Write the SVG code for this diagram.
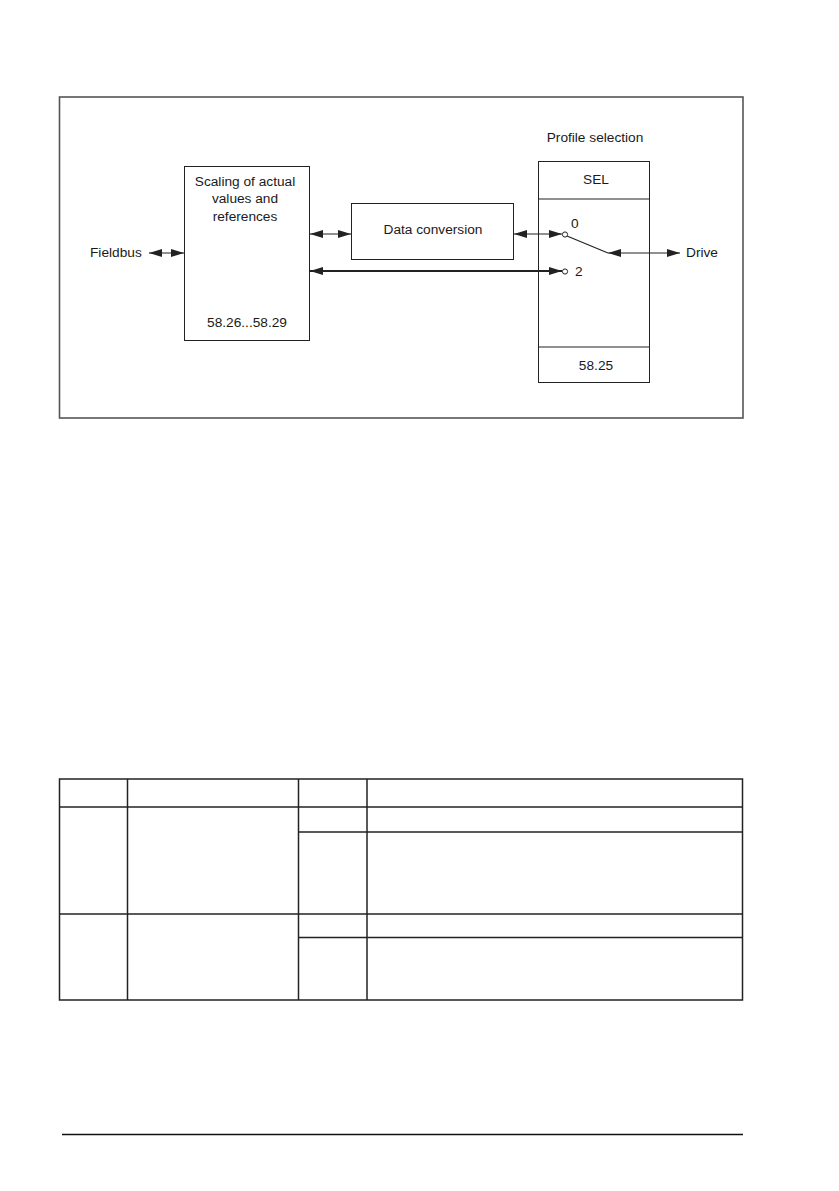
<svg xmlns="http://www.w3.org/2000/svg" width="839" height="1191" viewBox="0 0 839 1191">
<style>
text{font-family:"Liberation Sans",Arial,sans-serif;font-size:13.7px;fill:#1a1a1a}
.box{fill:#fff;stroke:#222;stroke-width:1}
.ln{stroke:#222;stroke-width:1.2;fill:none}
.thick{stroke:#222;stroke-width:2.2;fill:none}
.tbl{stroke:#222;stroke-width:1.5;fill:none}
.c{text-anchor:middle}
</style>
<defs>
<marker id="ah" viewBox="0 0 13 8" refX="13" refY="4" markerWidth="13" markerHeight="8" markerUnits="userSpaceOnUse" orient="auto-start-reverse">
<path d="M0,0 L13,4 L0,8 Z" fill="#222"/>
</marker>
</defs>
<rect x="0" y="0" width="839" height="1191" fill="#fff"/>
<rect id="frame" x="59.5" y="97" width="683.5" height="321" fill="none" stroke="#555" stroke-width="1.6"/>
<g id="scaling">
<rect class="box" x="184.5" y="166.5" width="125" height="174"/>
<text class="c" x="245" y="186">Scaling of actual</text>
<text class="c" x="245" y="203">values and</text>
<text class="c" x="245" y="221">references</text>
<text class="c" x="247" y="327">58.26...58.29</text>
</g>
<g id="dataconv">
<rect class="box" x="351.5" y="203.5" width="162" height="56"/>
<text class="c" x="433" y="234">Data conversion</text>
</g>
<g id="sel">
<text class="c" x="595" y="142">Profile selection</text>
<rect class="box" x="538.5" y="161.5" width="111" height="221"/>
<line class="ln" x1="538.5" y1="199" x2="649.5" y2="199" stroke-width="1"/>
<line class="ln" x1="538.5" y1="347" x2="649.5" y2="347" stroke-width="1"/>
<text class="c" x="596" y="184">SEL</text>
<text class="c" x="596" y="370">58.25</text>
<text x="571" y="228">0</text>
<text x="575" y="276">2</text>
<line class="ln" x1="567" y1="236" x2="608" y2="253"/>
<circle cx="565" cy="234.5" r="2.6" fill="#fff" stroke="#222" stroke-width="1"/>
<circle cx="565" cy="271.5" r="2.6" fill="#fff" stroke="#222" stroke-width="1"/>
</g>
<g id="fieldbus"><text x="90" y="257">Fieldbus</text></g>
<g id="drive"><text x="686" y="257">Drive</text></g>
<g id="connectors">
<line class="ln" x1="149" y1="253" x2="184" y2="253" marker-start="url(#ah)" marker-end="url(#ah)"/>
<line class="ln" x1="310" y1="234" x2="351" y2="234" marker-start="url(#ah)" marker-end="url(#ah)"/>
<line class="ln" x1="514" y1="234" x2="562" y2="234" marker-start="url(#ah)" marker-end="url(#ah)"/>
<line class="thick" x1="310" y1="271" x2="562" y2="271" marker-start="url(#ah)" marker-end="url(#ah)"/>
<line class="ln" x1="608" y1="253" x2="680" y2="253" marker-start="url(#ah)" marker-end="url(#ah)"/>
</g>
<g id="table">
<rect class="tbl" x="59.5" y="779" width="683" height="221"/>
<line class="tbl" x1="59.5" y1="807" x2="742.5" y2="807"/>
<line class="tbl" x1="59.5" y1="914" x2="742.5" y2="914"/>
<line class="tbl" x1="298.5" y1="832" x2="742.5" y2="832"/>
<line class="tbl" x1="298.5" y1="937.5" x2="742.5" y2="937.5"/>
<line class="tbl" x1="127.5" y1="779" x2="127.5" y2="1000"/>
<line class="tbl" x1="298.5" y1="779" x2="298.5" y2="1000"/>
<line class="tbl" x1="367" y1="779" x2="367" y2="1000"/>
</g>
<line id="footer" x1="62" y1="1134.5" x2="743" y2="1134.5" stroke="#111" stroke-width="1.3"/>
</svg>
